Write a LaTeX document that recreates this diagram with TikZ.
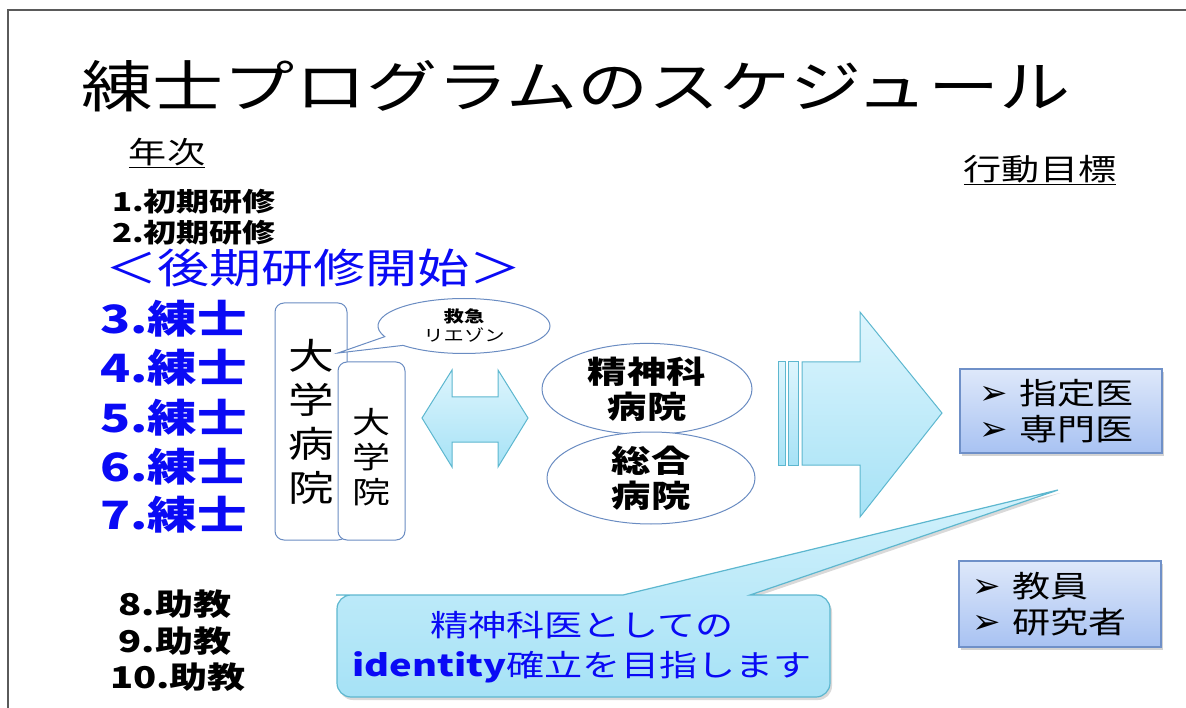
\documentclass[tikz,border=0pt]{standalone}
\usepackage{fontspec}
\setmainfont{Noto Sans CJK JP}[FakeStretch=1.27]
\newfontfamily\dv{DejaVu Sans}
\usetikzlibrary{shapes.geometric,shapes.callouts,shadows}
\definecolor{frameg}{HTML}{5A5A5A}
\definecolor{boxblue}{HTML}{6A8CC2}
\definecolor{arrowborder}{HTML}{5DB7CF}
\definecolor{arrowtop}{HTML}{DDF5FD}
\definecolor{arrowbot}{HTML}{A6E2F6}
\definecolor{goaltop}{HTML}{DEE8FA}
\definecolor{goalbot}{HTML}{A8C2F2}
\definecolor{goalborder}{HTML}{6F90C8}
\definecolor{txtblue}{HTML}{0A0AF5}
\newcommand{\fsz}[2]{\fontsize{#1}{#2}\selectfont}
\newcommand{\bul}{{\dv\fsz{34}{30}\smash{\raisebox{0pt}{➢}}}\hspace{12pt}}
\begin{document}
\begin{tikzpicture}[x=1pt,y=-1pt,
  txt/.style={inner sep=0pt},
  roundbox/.style={draw=boxblue, line width=1pt, rounded corners=9pt, fill=white, inner sep=0pt, align=center},
  ovalnode/.style={ellipse, draw=boxblue, line width=1pt, fill=white, inner sep=0pt, align=center, font=\bfseries\fsz{31}{35}},
  goalbox/.style={draw=goalborder, line width=1.2pt, top color=goaltop, bottom color=goalbot,
     drop shadow={shadow xshift=2pt, shadow yshift=-3pt, opacity=0.35}, align=left, inner ysep=0pt, font=\fsz{30}{36}},
  arrowshape/.style={draw=arrowborder, line width=1pt, top color=arrowtop, bottom color=arrowbot}
]
\useasboundingbox (0,0) rectangle (1186,708);
% frame
\draw[frameg, line width=2pt] (8,708) -- (8,10) -- (1186,10);

% title
\node[txt, font=\fsz{56}{60}] (title) at (576,86) {練士プログラムのスケジュール};

% left column
\node[txt, font=\fsz{30}{34}] (nenji) at (167,153) {\underline{年次}};
\node[txt, anchor=west, font=\bfseries\fsz{26}{30}] (y1) at (112,202) {1.初期研修};
\node[txt, anchor=west, font=\bfseries\fsz{26}{30}] (y2) at (112,233) {2.初期研修};
\node[txt, anchor=west, font=\fsz{41}{45}, text=txtblue] (koki) at (105,268) {＜後期研修開始＞};
\foreach \n/\yy in {3/319,4/368,5/418,6/467,7/515}{
  \node[txt, anchor=west, font=\bfseries\fsz{39}{43}, text=txtblue] (y\n) at (100,\yy) {\n.練士};
}
\node[txt, font=\bfseries\fsz{30}{34}] (y8) at (175,604) {8.助教};
\node[txt, font=\bfseries\fsz{30}{34}] (y9) at (175,641) {9.助教};
\node[txt, font=\bfseries\fsz{30}{34}] (y10) at (178,677) {10.助教};

% university boxes
\node[roundbox, minimum width=72pt, minimum height=237pt, font=\fsz{36}{44}] (uh) at (311,421.5) {大\\学\\病\\院};
\node[roundbox, minimum width=67pt, minimum height=178pt] (ug) at (371.5,451) {};
\node[txt, align=center, font=\fsz{30}{35}] (ugt) at (371.5,457) {大\\学\\院};

% liaison bubble
\node[ellipse callout, draw=boxblue, fill=white, line width=1pt, minimum width=172pt, minimum height=55pt,
      inner sep=0pt, callout absolute pointer={(338,353)}, callout pointer arc=22, align=center,
      font=\fsz{16}{19}] (liaison) at (464,326) {\textbf{救急}\\リエゾン};

% double arrow
\path[arrowshape] (422,418) -- (452,370) -- (452,397) -- (498,397) -- (498,370) -- (528,418)
  -- (498,467) -- (498,442) -- (452,442) -- (452,467) -- cycle;

% hospitals
\node[ovalnode, minimum width=210pt, minimum height=88pt] (psych) at (647,389) {精神科\\病院};
\node[ovalnode, minimum width=208pt, minimum height=92pt] (general) at (651,478) {総合\\病院};

% big arrow
\path[arrowshape] (778,362) rectangle (785,465);
\path[arrowshape] (788,362) rectangle (798,465);
\path[arrowshape] (802,362) -- (860,362) -- (860,312) -- (942,413) -- (860,517) -- (860,465) -- (802,465) -- cycle;

% goals
\node[txt, font=\fsz{30}{34}] (kodo) at (1040,170) {\underline{行動目標}};
\node[goalbox, minimum width=202pt, minimum height=84pt, text width=164pt, inner xsep=19pt] (spec) at (1061,411)
  {\bul 指定医\\ \bul 専門医};
\node[goalbox, minimum width=202pt, minimum height=86pt, text width=176pt, inner xsep=13pt] (fac) at (1060,604)
  {\bul 教員\\ \bul 研究者};

% identity callout
\path[draw=arrowborder, line width=1.2pt, top color=arrowtop!80!arrowbot, bottom color=arrowbot,
  drop shadow={shadow xshift=2pt, shadow yshift=-3pt, opacity=0.3}]
  (623,595) -- (1058,490) -- (750,595) -- (760,595)
  {[rounded corners=14pt] -- (830,595) -- (830,697) -- (337,697) -- (337,595) -- (350,595)} -- cycle;
\node[txt, align=center, text=txtblue, font=\fsz{30}{40}] (goal) at (582,647)
  {精神科医としての\\\textbf{identity}確立を目指します};
\end{tikzpicture}
\end{document}
